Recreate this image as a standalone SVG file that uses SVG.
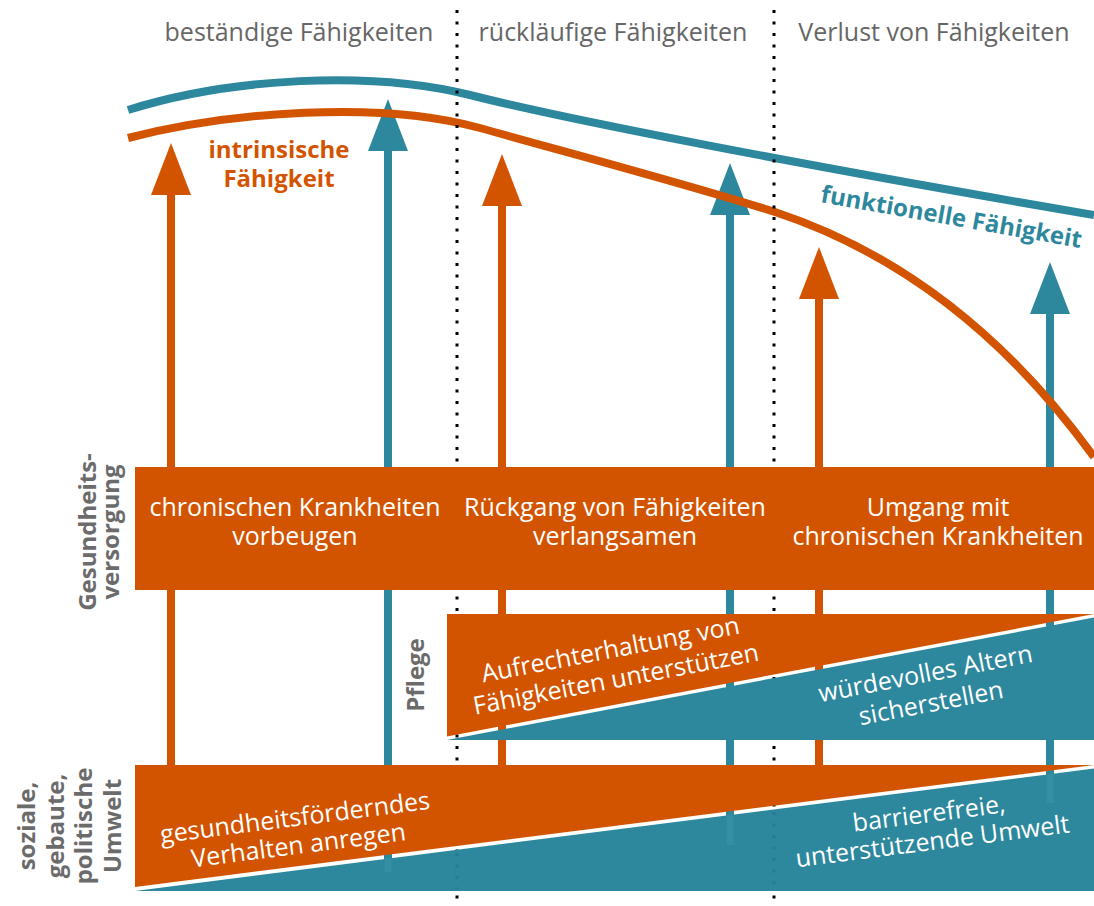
<svg xmlns="http://www.w3.org/2000/svg" width="1094" height="906" viewBox="0 0 1094 906">
  <defs>
    <style>
      text { font-family: "Open Sans", "Liberation Sans", sans-serif; }
      .phase { font-size: 25px; fill: #666666; text-anchor: middle; }
      .band-text { font-size: 25px; fill: #ffffff; text-anchor: middle; }
      .axis { font-size: 24px; font-weight: bold; fill: #6b6b6b; text-anchor: middle; }
      .curve-label { font-size: 24px; font-weight: bold; text-anchor: middle; }
      .orange { fill: #D35400; }
      .teal { fill: #2D889D; }
      .divider { stroke: #000000; stroke-width: 3; stroke-dasharray: 3 8.5; fill: none; }
      .shaft-o { stroke: #D35400; stroke-width: 8; fill: none; }
      .shaft-t { stroke: #2D889D; stroke-width: 8; fill: none; }
      .curve { stroke-width: 8; fill: none; }
      .ghost-t { stroke: #4a9fb2; stroke-width: 7; opacity: 0.3; }
      .ghost-d { stroke: #1b5f6e; stroke-width: 3; stroke-dasharray: 3 8.5; opacity: 0.3; }
    </style>
    <marker id="head-o" markerUnits="userSpaceOnUse" markerWidth="52" markerHeight="40" viewBox="0 0 52 40" refX="0" refY="20" orient="auto">
      <path d="M0,0 L52,20 L0,40 Z" fill="#D35400"/>
    </marker>
    <marker id="head-t" markerUnits="userSpaceOnUse" markerWidth="52" markerHeight="40" viewBox="0 0 52 40" refX="0" refY="20" orient="auto">
      <path d="M0,0 L52,20 L0,40 Z" fill="#2D889D"/>
    </marker>
  </defs>

  <!-- upward arrows: intrinsic (orange) and functional (teal) support -->
  <g id="connectors">
    <line class="shaft-o" x1="171" y1="766" x2="171" y2="195" marker-end="url(#head-o)"/>
    <line class="shaft-t" x1="388" y1="872" x2="388" y2="151" marker-end="url(#head-t)"/>
    <line class="shaft-o" x1="502" y1="766" x2="502" y2="206" marker-end="url(#head-o)"/>
    <line class="shaft-t" x1="730" y1="845" x2="730" y2="215" marker-end="url(#head-t)"/>
    <line class="shaft-o" x1="819" y1="766" x2="819" y2="299" marker-end="url(#head-o)"/>
    <line class="shaft-t" x1="1050" y1="803" x2="1050" y2="314" marker-end="url(#head-t)"/>
  </g>

  <!-- capability curves -->
  <g id="curves">
    <path id="curve-functional" class="curve" stroke="#2D889D" d="M128,110 C230,78 370,70 470,95 C560,118 800,165 1094,215"/>
    <path id="curve-intrinsic" class="curve" stroke="#D35400" d="M128,138 C230,112 380,100 480,128 C580,156 690,185 775,212 C860,240 980,300 1094,457"/>
  </g>

  <!-- phase dividers -->
  <g id="dividers">
    <line class="divider" x1="457" y1="10" x2="457" y2="906"/>
    <line class="divider" x1="774" y1="10" x2="774" y2="906"/>
  </g>

  <!-- phase headings -->
  <g id="phases">
    <text class="phase" x="299" y="41">beständige Fähigkeiten</text>
    <text class="phase" x="613" y="41">rückläufige Fähigkeiten</text>
    <text class="phase" x="934" y="41">Verlust von Fähigkeiten</text>
  </g>

  <!-- health care band -->
  <g id="band-care">
    <rect class="orange" x="135" y="467" width="959" height="123"/>
    <text class="band-text"><tspan x="295" y="516">chronischen Krankheiten</tspan><tspan x="295" y="545">vorbeugen</tspan></text>
    <text class="band-text"><tspan x="615" y="516">Rückgang von Fähigkeiten</tspan><tspan x="615" y="545">verlangsamen</tspan></text>
    <text class="band-text"><tspan x="938" y="516">Umgang mit</tspan><tspan x="938" y="545">chronischen Krankheiten</tspan></text>
  </g>

  <!-- long-term care band -->
  <g id="band-pflege">
    <polygon class="orange" points="447,614 1094,614 447,736.5"/>
    <polygon class="teal" points="447,740 1094,617.5 1094,740"/>
    <text class="band-text" transform="translate(612,658) rotate(-10.8)"><tspan x="0" y="0">Aufrechterhaltung von</tspan><tspan x="0" y="30">Fähigkeiten unterstützen</tspan></text>
    <text class="band-text" transform="translate(927,682) rotate(-10.8)"><tspan x="0" y="0">würdevolles Altern</tspan><tspan x="0" y="30">sicherstellen</tspan></text>
  </g>

  <!-- environment band -->
  <g id="band-umwelt">
    <polygon class="orange" points="135,765 1094,765 135,887"/>
    <polygon class="teal" points="135,891 1094,768.5 1094,891"/>
    <line class="ghost-t" x1="388" y1="858" x2="388" y2="872"/>
    <line class="ghost-t" x1="730" y1="815" x2="730" y2="845"/>
    <line class="ghost-t" x1="1050" y1="774" x2="1050" y2="803"/>
    <line class="ghost-d" x1="457" y1="853" x2="457" y2="889"/>
    <line class="ghost-d" x1="774" y1="812" x2="774" y2="889"/>
    <text class="band-text" transform="translate(296,826) rotate(-7.3)"><tspan x="0" y="0">gesundheitsförderndes</tspan><tspan x="0" y="28">Verhalten anregen</tspan></text>
    <text class="band-text" transform="translate(930,822) rotate(-7.3)"><tspan x="0" y="0">barrierefreie,</tspan><tspan x="0" y="28">unterstützende Umwelt</tspan></text>
  </g>

  <!-- row labels -->
  <g id="label-care">
    <text class="axis" transform="translate(0,532) rotate(-90)"><tspan x="0" y="96">Gesundheits-</tspan><tspan x="0" y="119">versorgung</tspan></text>
  </g>
  <g id="label-pflege">
    <text class="axis" transform="translate(0,675) rotate(-90)" x="0" y="424">Pflege</text>
  </g>
  <g id="label-umwelt">
    <text class="axis" transform="translate(0,826) rotate(-90)"><tspan x="0" y="35">soziale,</tspan><tspan x="0" y="63.5">gebaute,</tspan><tspan x="0" y="92">politische</tspan><tspan x="0" y="120.5">Umwelt</tspan></text>
  </g>

  <!-- curve labels -->
  <g id="label-intrinsic">
    <text class="curve-label" fill="#D35400"><tspan x="279" y="158">intrinsische</tspan><tspan x="279" y="187">Fähigkeit</tspan></text>
  </g>
  <g id="label-functional">
    <text class="curve-label" fill="#2D889D" transform="translate(950,225) rotate(10)" x="0" y="0">funktionelle Fähigkeit</text>
  </g>
</svg>
